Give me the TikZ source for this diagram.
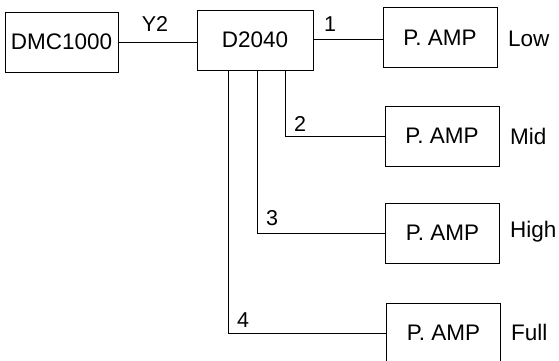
\documentclass[tikz,border=0pt]{standalone}
\usepackage{fontspec}
\setmainfont{Liberation Sans}

\tikzset{every picture/.style={line width=0.75pt}}
\tikzset{
    unitbox/.style={draw, minimum width=114pt, minimum height=60pt, inner sep=0pt,
        font=\fontsize{22.5}{26}\selectfont},
    wirelabel/.style={inner sep=0.75pt, font=\fontsize{21.5}{25}\selectfont},
    bandlabel/.style={anchor=west, inner sep=0.75pt, font=\fontsize{22.5}{26}\selectfont}
}

\begin{document}
\begin{tikzpicture}[x=1pt,y=1pt,yscale=-1]
    %set diagram size to 559 x 360, last amp box runs off the bottom
    \clip (0,0) rectangle (559,360);

    %Shape: Rectangle [DMC1000]
    \node [unitbox, minimum width=113pt] (dmc) at (61.5,42) {DMC1000};
    %Shape: Rectangle [D2040]
    \node [unitbox, minimum width=116pt] (dsp) at (255,40) {D2040};

    %Shape: Rectangle [power amps]
    \node [unitbox] (ampLow) at (440,37.5) {P. AMP};
    \node [unitbox] (ampMid) at (442,136) {P. AMP};
    \node [unitbox] (ampHigh) at (442.5,233) {P. AMP};
    \node [unitbox] (ampFull) at (443.5,333) {P. AMP};

    %Straight Lines [Y2 link]
    \draw (dmc.east) -- (dmc.east -| dsp.west) ;
    %Straight Lines [output 1]
    \draw ([yshift=-1pt]dsp.east) -- ([yshift=-1pt]dsp.east -| ampLow.west) ;
    %Straight Lines [output 2]
    \draw ([xshift=30pt]dsp.south) |- (ampMid.west) ;
    %Straight Lines [output 3]
    \draw ([xshift=2pt]dsp.south) |- (ampHigh.west) ;
    %Straight Lines [output 4]
    \draw ([xshift=-27pt]dsp.south) |- (ampFull.west) ;

    % Text Node
    \node [wirelabel] (lblY) at (155,24) {Y2};
    % Text Node
    \node [wirelabel] (lblOne) at (330,24) {1};
    % Text Node
    \node [wirelabel] (lblTwo) at (300,124) {2};
    % Text Node
    \node [wirelabel] (lblThree) at (272,218) {3};
    % Text Node
    \node [wirelabel] (lblFour) at (243,320) {4};

    % Text Node
    \node [bandlabel] (lblLow) at (507,39) {Low};
    % Text Node
    \node [bandlabel] (lblMid) at (509,136) {Mid};
    % Text Node
    \node [bandlabel] (lblHigh) at (509,232) {High};
    % Text Node
    \node [bandlabel] (lblFull) at (510,332) {Full};
\end{tikzpicture}
\end{document}
